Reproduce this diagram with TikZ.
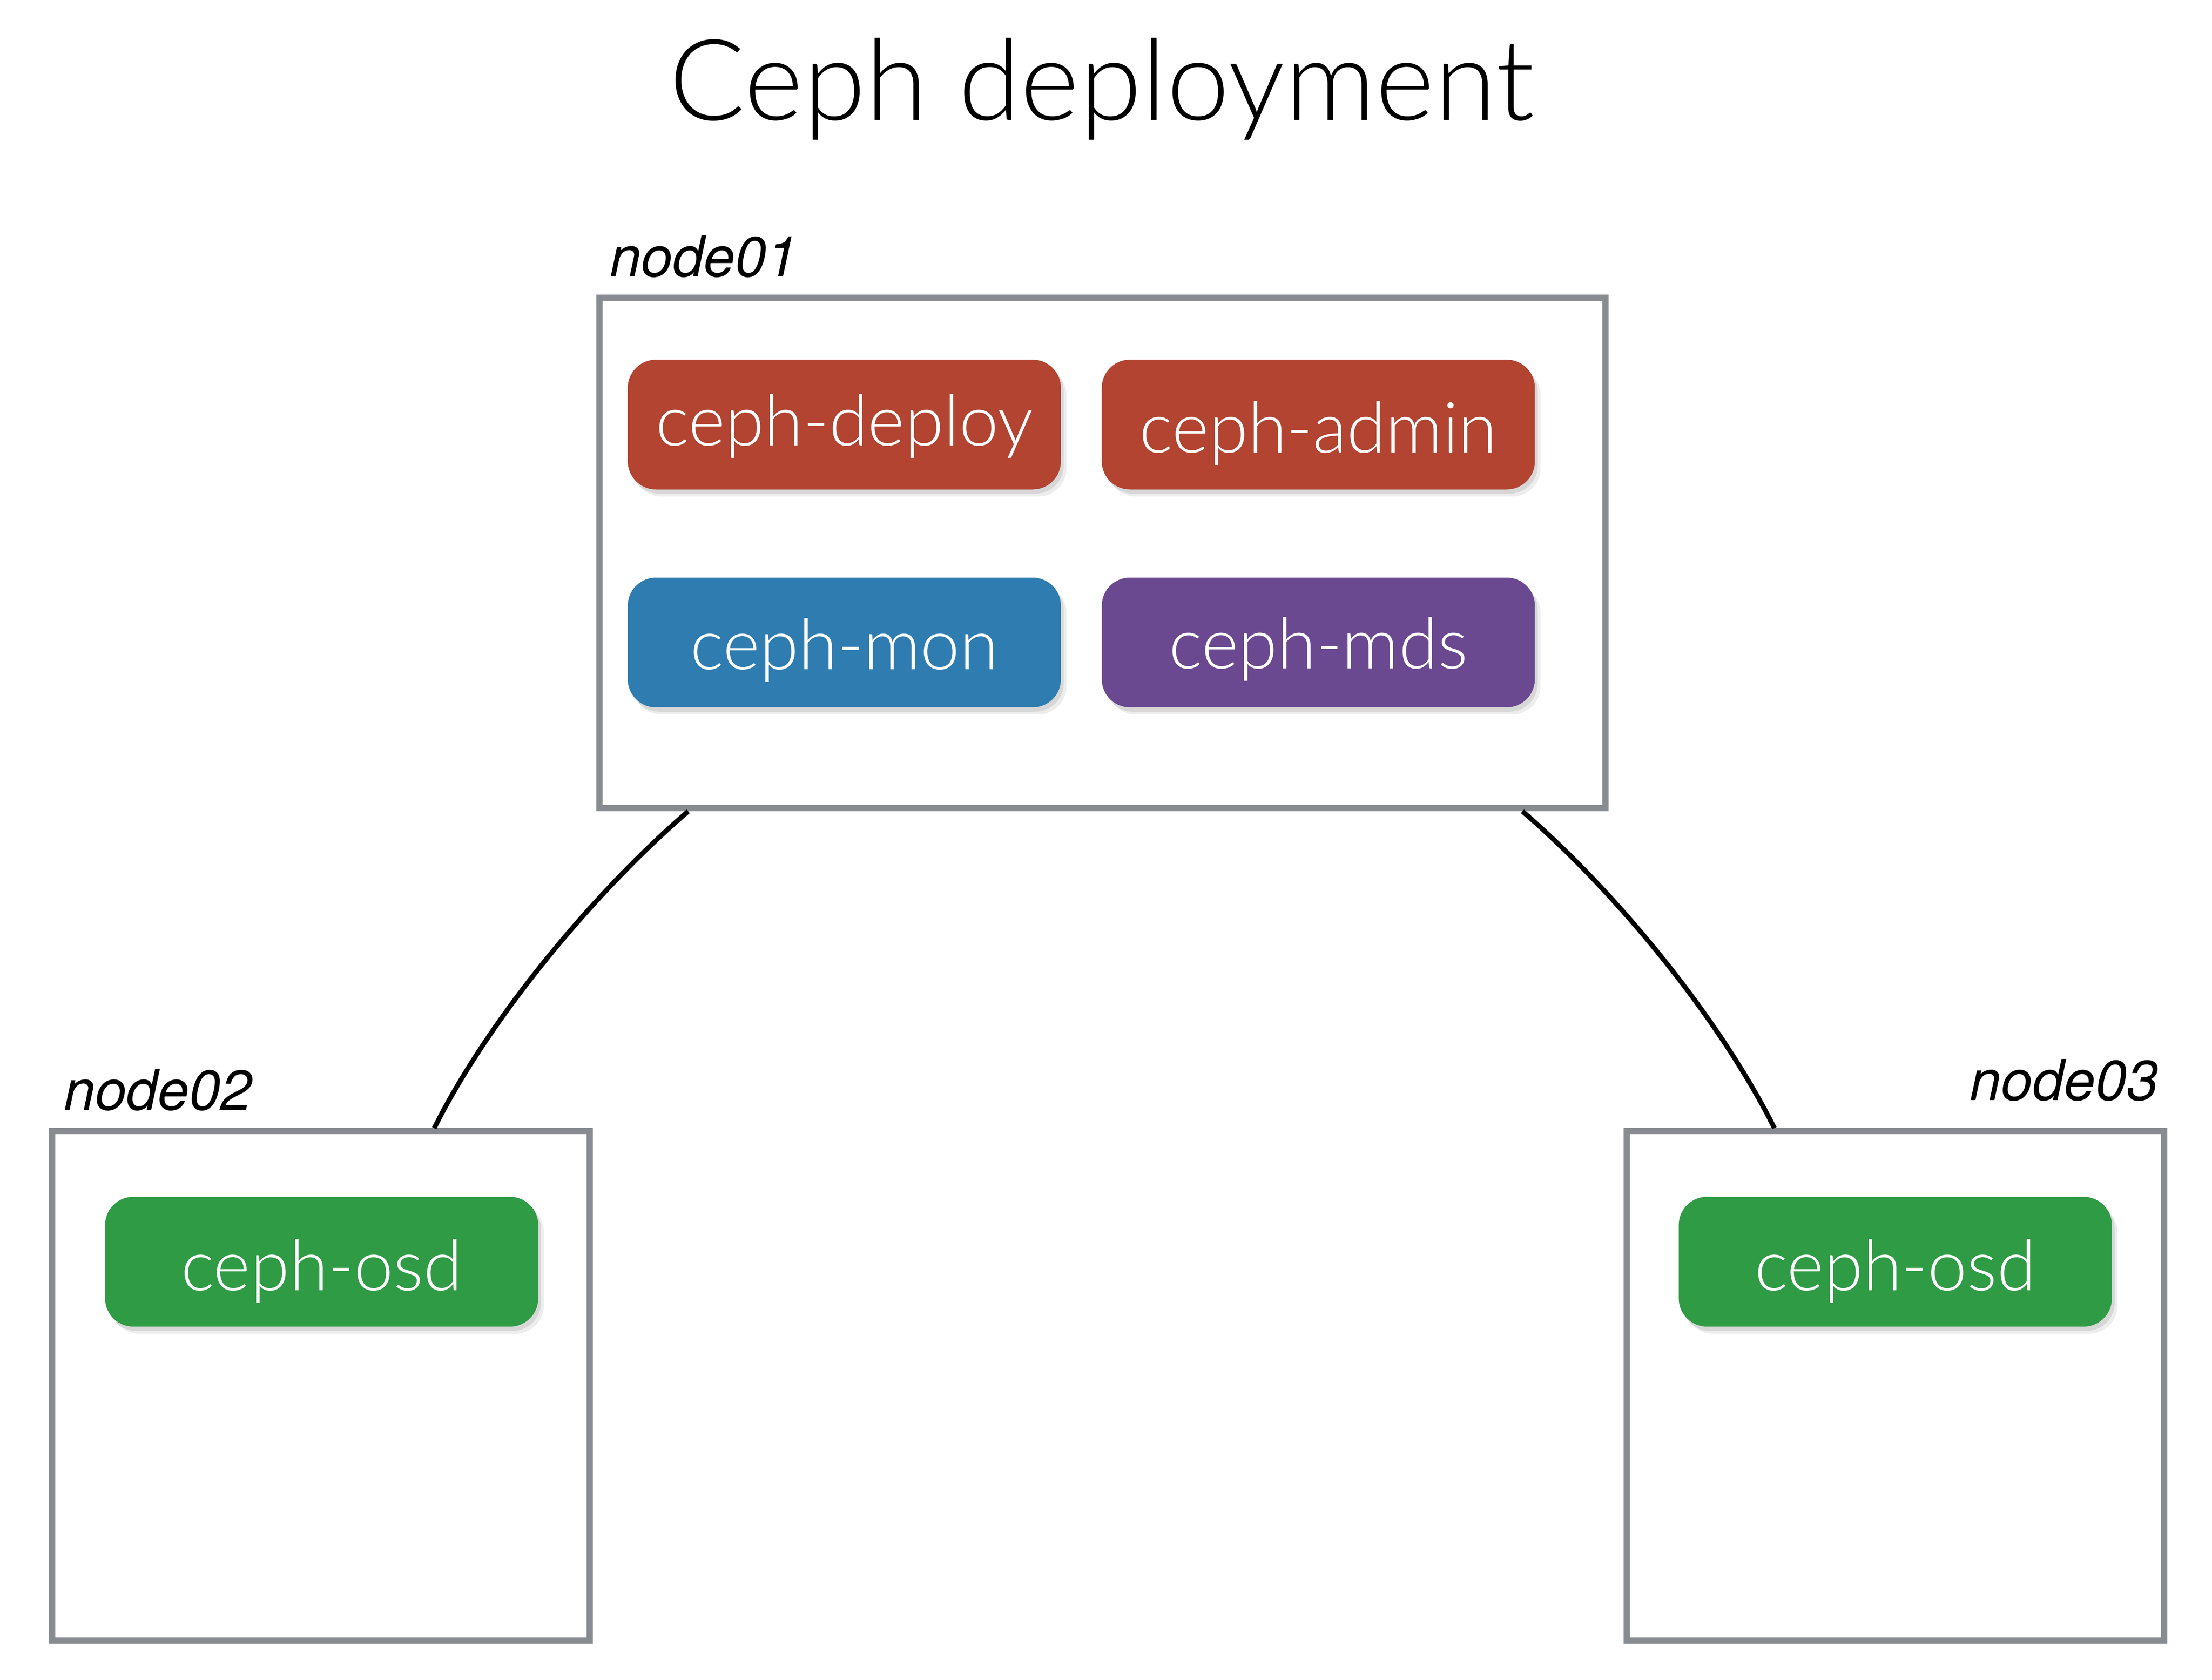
\documentclass[tikz,border=0pt]{standalone}
\usepackage{fontspec}
\usetikzlibrary{shadows,calc}
\newfontfamily\lightfont{Lato}[UprightFont={* Light}]
\newfontfamily\helv{TeX Gyre Heros}
\definecolor{boxgray}{HTML}{888B8F}
\definecolor{pillred}{HTML}{B24431}
\definecolor{pillblue}{HTML}{2E7CB0}
\definecolor{pillpurple}{HTML}{6B4990}
\definecolor{pillgreen}{HTML}{2F9B45}
\newcommand{\lowered}[2]{\raisebox{-#1pt}{#2}}
\tikzset{
  hostbox/.style={draw=boxgray, line width=4.4pt, fill=white, inner sep=0pt},
  pill/.style={rounded corners=20pt, minimum width=307pt, minimum height=92pt, inner sep=0pt,
    text height=36pt, text depth=9pt,
    text=white, font=\lightfont\fontsize{50}{58}\selectfont,
    drop shadow={shadow xshift=4pt, shadow yshift=-5pt, opacity=0.07, fill=black},
    drop shadow={shadow xshift=2pt, shadow yshift=-3pt, opacity=0.09, fill=black}},
  hostlabel/.style={font=\helv\itshape\fontsize{40}{48}\selectfont, inner sep=0pt},
  link/.style={line width=3.4pt, black}
}
\begin{document}
\begin{tikzpicture}[x=1pt,y=-1pt]
\useasboundingbox[fill=white] (0,0) rectangle (1568,1190.9);
% title
\node[font=\lightfont\fontsize{80}{92}\selectfont, anchor=base, inner sep=0pt] (title) at (781,85) {Ceph deployment};
% host boxes
\node[hostbox, minimum width=713pt, minimum height=362pt] (n1) at (781.5,392) {};
\node[hostbox, minimum width=381pt, minimum height=361pt] (n2) at (227.5,982.5) {};
\node[hostbox, minimum width=381pt, minimum height=361pt] (n3) at (1343.5,982.5) {};
% host labels
\node[hostlabel, anchor=base west] (l1) at (432,196) {node01};
\node[hostlabel, anchor=base west] (l2) at (45,787) {node02};
\node[hostlabel, anchor=base east] (l3) at (1530,780) {node03};
% services
\node[pill, fill=pillred] (deploy) at (598.5,301) {\lowered{1.5}{ceph-deploy}};
\node[pill, fill=pillred] (admin) at (934.5,301) {\lowered{6.5}{ceph-admin}};
\node[pill, fill=pillblue] (mon) at (598.5,455.5) {\lowered{5.5}{ceph-mon}};
\node[pill, fill=pillpurple] (mds) at (934.5,455.5) {\lowered{5}{ceph-mds}};
\node[pill, fill=pillgreen] (osd2) at (228,894.5) {\lowered{7}{ceph-osd}};
\node[pill, fill=pillgreen] (osd3) at (1343.5,894.5) {\lowered{7}{ceph-osd}};
% link end points
\coordinate (a1) at ($(n1.south west)+(65,0)$);
\coordinate (a2) at ($(n2.north west)+(273,0)$);
\coordinate (b1) at ($(n1.south east)+(-61,0)$);
\coordinate (b2) at ($(n3.north west)+(107,0)$);
\draw[link] (a1) .. controls +(-64,55) and +(40,-80) .. (a2);
\draw[link] (b1) .. controls +(64,55) and +(-40,-80) .. (b2);
\end{tikzpicture}
\end{document}
